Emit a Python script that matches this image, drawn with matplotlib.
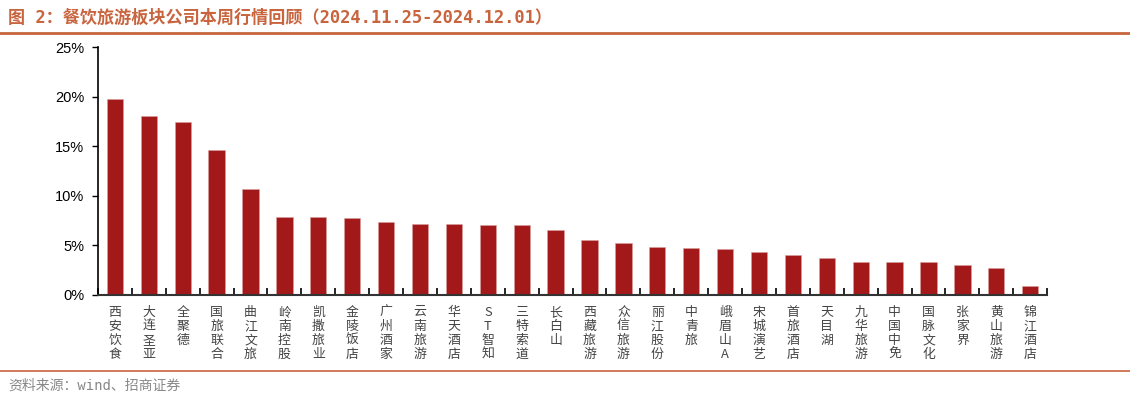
import matplotlib
matplotlib.use("Agg")
import matplotlib.pyplot as plt
import numpy as np
from matplotlib.ticker import FuncFormatter

plt.rcParams['font.family'] = ['Noto Sans CJK SC', 'DejaVu Sans']

companies = ['西安饮食', '大连圣亚', '全聚德', '国旅联合', '曲江文旅', '岭南控股', '凯撒旅业',
             '金陵饭店', '广州酒家', '云南旅游', '华天酒店', 'ST智知', '三特索道', '长白山',
             '西藏旅游', '众信旅游', '丽江股份', '中青旅', '峨眉山A', '宋城演艺', '首旅酒店',
             '天目湖', '九华旅游', '中国中免', '国脉文化', '张家界', '黄山旅游', '锦江酒店']
weekly_change = [19.8, 18.1, 17.4, 14.6, 10.7, 7.9, 7.9,
                 7.8, 7.4, 7.2, 7.2, 7.1, 7.1, 6.6,
                 5.5, 5.2, 4.8, 4.7, 4.6, 4.3, 4.0,
                 3.7, 3.35, 3.3, 3.3, 3.0, 2.7, 0.95]

title = '图 2：餐饮旅游板块公司本周行情回顾（2024.11.25-2024.12.01）'
source = '资料来源：wind、招商证券'

bar_color = '#A31818'
accent = '#C8643E'
mono = ['DejaVu Sans Mono', 'Noto Sans CJK SC']

fig = plt.figure(figsize=(11.3, 3.99), dpi=100)
ax = fig.add_axes([0.0867, 0.2607, 0.84, 0.6213])

x = np.arange(len(companies))
ax.bar(x, weekly_change, width=0.48, color=bar_color, edgecolor='#D9A0A0', linewidth=0.4)

ax.set_xlim(-0.5, len(companies) - 0.5)
ax.set_ylim(0, 25)
ax.set_yticks(np.arange(0, 26, 5))
ax.yaxis.set_major_formatter(FuncFormatter(lambda v, p: f'{v:.0f}%'))
ax.tick_params(axis='y', direction='out', length=4, width=1, labelsize=10.5, pad=6)
for lab in ax.get_yticklabels():
    lab.set_family(['Liberation Sans', 'DejaVu Sans'])

ax.set_xticks(x)
ax.set_xticklabels(['\n'.join(c) for c in companies], fontsize=9.3, color='#444444',
                   linespacing=1.1, va='top')
ax.tick_params(axis='x', which='major', length=0, pad=8)
ax.set_xticks(np.arange(-0.5, len(companies), 1), minor=True)
ax.tick_params(axis='x', which='minor', direction='in', length=5, width=1.2)

for s in ['top', 'right']:
    ax.spines[s].set_visible(False)
ax.spines['left'].set_linewidth(1.2)
ax.spines['bottom'].set_linewidth(1.5)
ax.spines['bottom'].set_color('#333333')

fig.text(0.007, 0.955, title, fontsize=12.3, color=accent, fontweight='bold',
         va='center', family=mono)
fig.add_artist(plt.Line2D([0, 1], [0.917, 0.917], color=accent, linewidth=2))
fig.add_artist(plt.Line2D([0, 1], [0.07, 0.07], color=accent, linewidth=1.2))
fig.text(0.007, 0.033, source, fontsize=10, color='#888888', va='center', family=mono)

fig.savefig('out.png', dpi=100)
